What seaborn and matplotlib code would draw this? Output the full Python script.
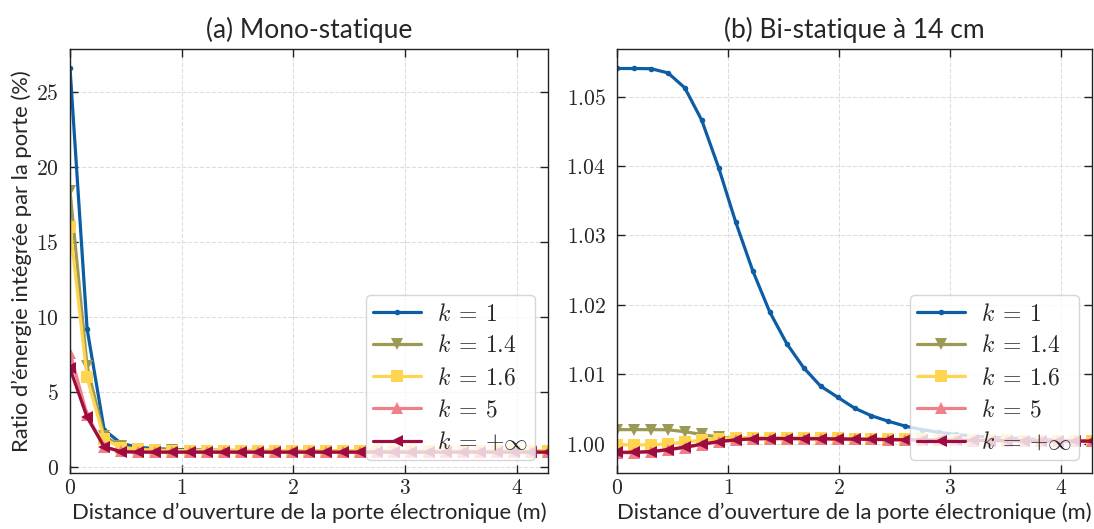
import numpy as np
import pandas as pd
import matplotlib
matplotlib.use("Agg")
import matplotlib.pyplot as plt
import seaborn as sns

# ---------------- data ----------------
distance = [0.000, 0.153, 0.306, 0.459, 0.611, 0.764, 0.917, 1.070, 1.223, 1.376,
            1.529, 1.681, 1.834, 1.987, 2.140, 2.293, 2.446, 2.599, 2.751, 2.904,
            3.057, 3.210, 3.363, 3.516, 3.669, 3.821, 3.974, 4.127, 4.280]

labels = [r"$k\:=\:1$", r"$k\:=\:1.4$", r"$k\:=\:1.6$", r"$k\:=\:5$", r"$k\:=\:{+}\infty$"]

mono_k1 = [26.6, 9.2, 2.45, 1.55, 1.30, 1.20, 1.15, 1.12, 1.10, 1.09, 1.08, 1.08, 1.08, 1.07, 1.07,
           1.07, 1.07, 1.07, 1.07, 1.07, 1.07, 1.07, 1.07, 1.07, 1.07, 1.07, 1.07, 1.07, 1.07]
mono_k14 = [18.4, 6.7, 2.05, 1.35, 1.18, 1.12, 1.10, 1.08, 1.07, 1.07, 1.07, 1.07, 1.07, 1.07, 1.07,
            1.07, 1.07, 1.07, 1.07, 1.07, 1.07, 1.07, 1.07, 1.07, 1.07, 1.07, 1.07, 1.07, 1.07]
mono_k16 = [16.0, 5.95, 1.85, 1.28, 1.15, 1.10, 1.08, 1.07, 1.07, 1.07, 1.07, 1.07, 1.07, 1.07, 1.07,
            1.07, 1.07, 1.07, 1.07, 1.07, 1.07, 1.07, 1.07, 1.07, 1.07, 1.07, 1.07, 1.07, 1.07]
mono_k5 = [7.6, 3.45, 1.30, 1.02, 0.99, 0.98, 0.98, 0.98, 0.98, 0.98, 0.98, 0.98, 0.98, 0.98, 0.98,
           0.98, 0.98, 0.98, 0.98, 0.98, 0.98, 0.98, 0.98, 0.98, 0.98, 0.98, 0.98, 0.98, 0.98]
mono_kinf = [6.55, 3.3, 1.33, 1.00, 0.97, 0.97, 0.97, 0.97, 0.97, 0.97, 0.97, 0.97, 0.97, 0.97, 0.97,
             0.97, 0.97, 0.97, 0.97, 0.97, 0.97, 0.97, 0.97, 0.97, 0.97, 0.97, 0.97, 0.97, 0.97]

bi_k1 = [1.05405, 1.05405, 1.05402, 1.05342, 1.05126, 1.04658, 1.03970, 1.03189, 1.02490, 1.01897,
         1.01441, 1.01094, 1.00828, 1.00669, 1.00510, 1.00400, 1.00320, 1.00250, 1.00200, 1.00160,
         1.00130, 1.00110, 1.00090, 1.00080, 1.00070, 1.00060, 1.00050, 1.00040, 1.00040]
bi_k14 = [1.00200, 1.00200, 1.00200, 1.00198, 1.00170, 1.00130, 1.00092, 1.00080, 1.00075, 1.00073,
          1.00072, 1.00070, 1.00068, 1.00066, 1.00063, 1.00060, 1.00058, 1.00055, 1.00053, 1.00050,
          1.00048, 1.00046, 1.00044, 1.00042, 1.00040, 1.00038, 1.00036, 1.00035, 1.00034]
bi_k16 = [0.99980, 0.99980, 0.99981, 0.99996, 1.00020, 1.00050, 1.00072, 1.00082, 1.00085, 1.00085,
          1.00083, 1.00080, 1.00077, 1.00074, 1.00070, 1.00067, 1.00064, 1.00061, 1.00058, 1.00055,
          1.00052, 1.00049, 1.00046, 1.00044, 1.00042, 1.00040, 1.00038, 1.00036, 1.00035]
bi_k5 = [0.99868, 0.99868, 0.99878, 0.99907, 0.99942, 0.99985, 1.00024, 1.00050, 1.00065, 1.00069,
         1.00069, 1.00068, 1.00066, 1.00064, 1.00061, 1.00058, 1.00055, 1.00052, 1.00050, 1.00047,
         1.00045, 1.00043, 1.00041, 1.00039, 1.00037, 1.00035, 1.00034, 1.00033, 1.00032]
bi_kinf = [0.99874, 0.99874, 0.99884, 0.99913, 0.99947, 0.99990, 1.00029, 1.00053, 1.00068, 1.00072,
           1.00072, 1.00071, 1.00069, 1.00066, 1.00063, 1.00060, 1.00057, 1.00054, 1.00052, 1.00049,
           1.00047, 1.00045, 1.00043, 1.00041, 1.00039, 1.00037, 1.00036, 1.00035, 1.00034]

colors = ["#0C5DA5", "#9A9A55", "#FFD54F", "#F08088", "#9E0B3E"]
markers = [".", "v", "s", "^", "<"]
msizes = [8, 8, 8, 8, 9]

# ---------------- style ----------------
sns.set_theme(style="ticks")
plt.rcParams["font.family"] = ["Lato", "DejaVu Sans"]
plt.rcParams["mathtext.fontset"] = "cm"
plt.rcParams["axes.edgecolor"] = "#222222"
plt.rcParams["axes.linewidth"] = 1.0

fig = plt.figure(figsize=(10.94, 5.29), dpi=100)
ax1 = fig.add_axes([70 / 1094, 1 - 473 / 529, 478 / 1094, 424 / 529])
ax2 = fig.add_axes([617 / 1094, 1 - 473 / 529, 475 / 1094, 424 / 529])


def draw(ax, series):
    for vals, lab, c, m, ms in zip(series, labels, colors, markers, msizes):
        sns.lineplot(x=distance, y=vals, ax=ax, color=c, marker=m, markersize=ms,
                     markeredgewidth=0, linewidth=2.3, label=lab, legend=False)
    ax.legend(ax.lines[:5], labels, loc="lower right", fontsize=17, frameon=True,
              fancybox=True, framealpha=0.8, edgecolor="#cccccc",
              handlelength=2.0, borderpad=0.3, labelspacing=0.42, handletextpad=0.7,
              borderaxespad=0.55)
    ax.set_xlim(0, 4.28)
    ax.set_xticks([0, 1, 2, 3, 4])
    ax.grid(True, linestyle="--", color="#dddddd", linewidth=0.8)
    ax.tick_params(direction="in", top=True, right=True, length=6, width=1,
                   labelsize=15.5, color="#222222")
    ax.tick_params(axis="y", pad=8)
    ax.set_xlabel("Distance d\u2019ouverture de la porte \u00e9lectronique (m)", fontsize=15.8,
                  labelpad=3)


draw(ax1, [mono_k1, mono_k14, mono_k16, mono_k5, mono_kinf])
draw(ax2, [bi_k1, bi_k14, bi_k16, bi_k5, bi_kinf])

ax1.set_ylim(-0.42, 27.86)
ax1.set_yticks([0, 5, 10, 15, 20, 25])
ax1.set_xticklabels([f"${v}$" for v in [0, 1, 2, 3, 4]])
ax1.set_yticklabels([f"${v}$" for v in [0, 5, 10, 15, 20, 25]])
ax1.set_ylabel("Ratio d\u2019\u00e9nergie int\u00e9gr\u00e9e par la porte (%)", fontsize=15.8,
               labelpad=3)
ax1.set_title("(a) Mono-statique", fontsize=19, pad=8)

ax2.set_ylim(0.99575, 1.05686)
yt = [1.00, 1.01, 1.02, 1.03, 1.04, 1.05]
ax2.set_yticks(yt)
ax2.set_xticklabels([f"${v}$" for v in [0, 1, 2, 3, 4]])
ax2.set_yticklabels([f"${v:.2f}$" for v in yt])
ax2.set_title("(b) Bi-statique \u00e0 14 cm", fontsize=19, pad=8)

fig.savefig("out.png", dpi=100)
